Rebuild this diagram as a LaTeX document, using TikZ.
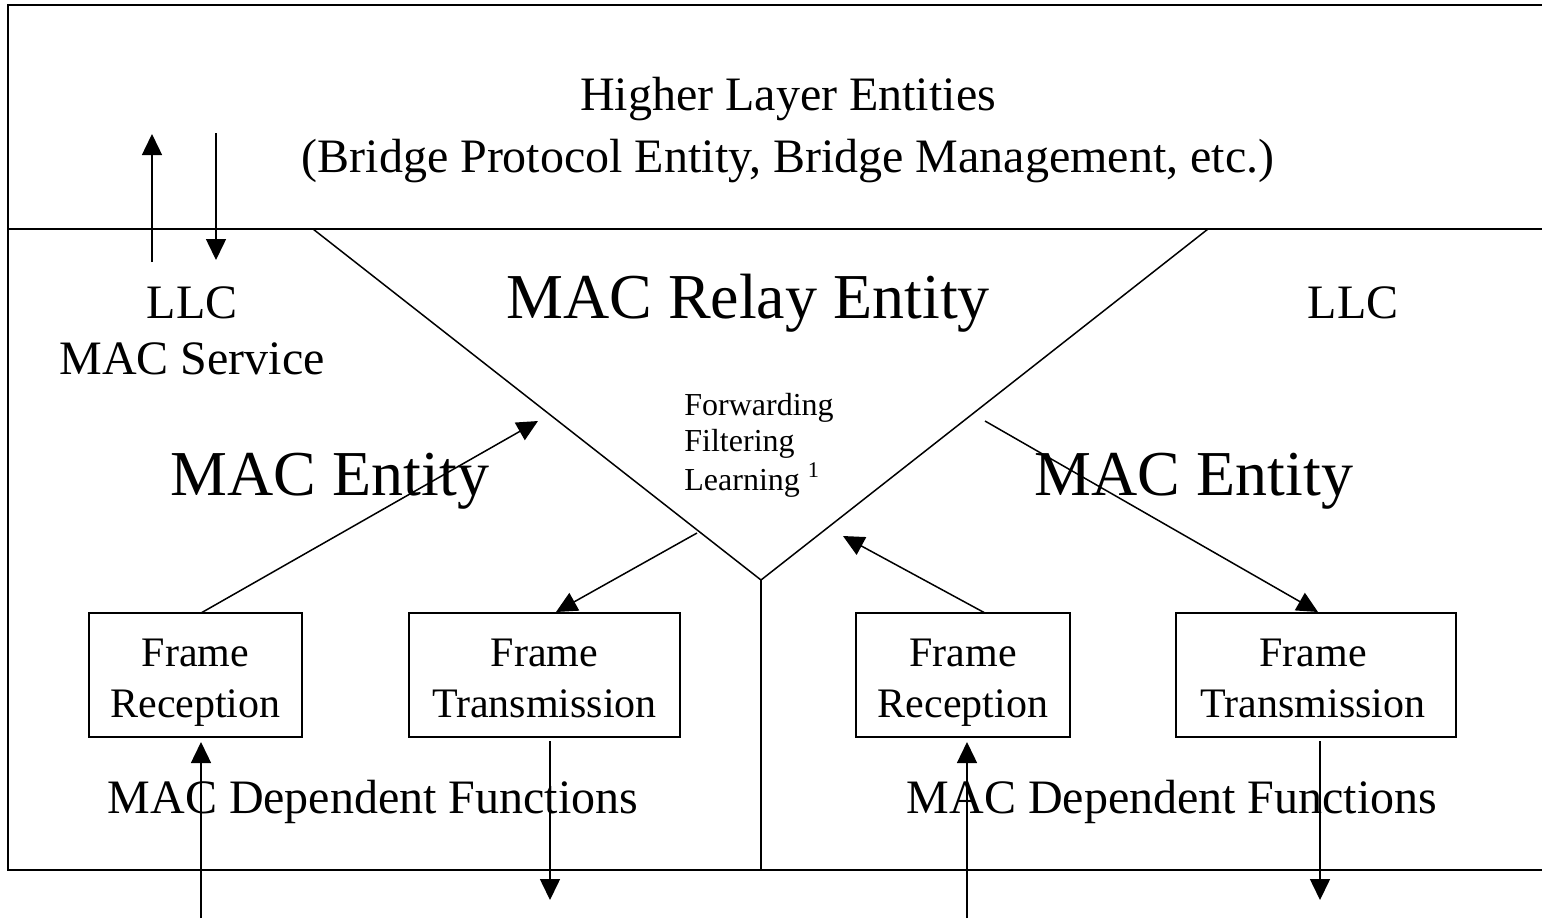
\documentclass[tikz,border=0pt]{standalone}
\usepackage{fontspec}
\setmainfont{Liberation Serif}
\usetikzlibrary{arrows.meta}
\begin{document}
\begin{tikzpicture}[x=0.5pt,y=-0.5pt,
  frame/.style={line width=1pt},
  thin/.style={line width=0.75pt},
  conn/.style={line width=0.75pt,-{Triangle[length=10.5pt,width=10pt]}},
  fbox/.style={draw,line width=0.75pt,inner sep=0pt,minimum height=62pt},
  boxtxt/.style={inner sep=0pt,anchor=base,font=\fontsize{21}{25.5}\selectfont},
  body/.style={inner sep=0pt,anchor=base,font=\fontsize{24}{28}\selectfont},
  big/.style={inner sep=0pt,anchor=base,font=\fontsize{32}{38}\selectfont},
  small/.style={inner sep=0pt,anchor=base west,font=\fontsize{16}{18.75}\selectfont}]
\useasboundingbox (0,0) rectangle (1542,918);

% outer frame and layer divider
\draw[frame] (1542,5) -- (8,5) -- (8,870) -- (1542,870);
\draw[frame] (8,229) -- (1542,229);

% relay V and centre split
\coordinate (vl) at (313,229);
\coordinate (vr) at (1208,229);
\coordinate (vb) at (761,580);
\coordinate (vd) at (761,870);
\draw[thin] (vl) -- (vb) -- (vr);
\draw[thin] (vb) -- (vd);

% texts
\node[body] (hle) at (788,110) {Higher Layer Entities};
\node[body] (bpe) at (788,172) {(Bridge Protocol Entity, Bridge Management, etc.)};
\node[body] (llcl) at (192,318) {LLC};
\node[body] (macs) at (192,374) {MAC Service};
\node[big] (relay) at (748,318) {MAC Relay Entity};
\node[body] (llcr) at (1353,318) {LLC};
\node[small] (fwd) at (684,415) {Forwarding};
\node[small] (flt) at (684,451) {Filtering};
\node[small] (lrn) at (684,490) {Learning \textsuperscript{1}};
\node[big] (mel) at (330,495) {MAC Entity};
\node[big] (mer) at (1194,495) {MAC Entity};
\node[body] (mdfl) at (373,813) {MAC Dependent Functions};
\node[body] (mdfr) at (1172,813) {MAC Dependent Functions};

% frame boxes
\node[fbox,minimum width=106.5pt] (recl) at (195.5,675) {};
\node[fbox,minimum width=135.5pt] (trl) at (544.5,675) {};
\node[fbox,minimum width=107pt] (recr) at (963,675) {};
\node[fbox,minimum width=140pt] (trr) at (1316,675) {};
\node[boxtxt] (recl1) at (195.5,666) {Frame};
\node[boxtxt] (recl2) at (195.5,717) {Reception};
\node[boxtxt] (trl1) at (544.5,666) {Frame};
\node[boxtxt] (trl2) at (544.5,717) {Transmission};
\node[boxtxt] (recr1) at (963,666) {Frame};
\node[boxtxt] (recr2) at (963,717) {Reception};
\node[boxtxt] (trr1) at (1313,666) {Frame};
\node[boxtxt] (trr2) at (1313,717) {Transmission};

% LLC service arrows
\coordinate (upa) at (152,262);
\coordinate (upb) at (152,134);
\coordinate (dna) at (216,133);
\coordinate (dnb) at (216,260);
\draw[conn] (upa) -- (upb);
\draw[conn] (dna) -- (dnb);

% relay paths
\coordinate (rxl) at (201,613);
\coordinate (inl) at (538,421);
\draw[conn] (rxl) -- (inl);
\coordinate (outl) at (697,533);
\coordinate (txl) at (556,612);
\draw[conn] (outl) -- (txl);
\coordinate (rxr) at (985,613);
\coordinate (inr) at (843,536);
\draw[conn] (rxr) -- (inr);
\coordinate (outr) at (985,421);
\coordinate (txr) at (1318,612);
\draw[conn] (outr) -- (txr);

% medium attachments
\coordinate (bl1) at (201,918);
\coordinate (bl1t) at (201,742);
\draw[conn] (bl1) -- (bl1t);
\coordinate (bl2) at (550,741);
\coordinate (bl2t) at (550,900);
\draw[conn] (bl2) -- (bl2t);
\coordinate (br1) at (967,918);
\coordinate (br1t) at (967,742);
\draw[conn] (br1) -- (br1t);
\coordinate (br2) at (1320,741);
\coordinate (br2t) at (1320,900);
\draw[conn] (br2) -- (br2t);
\end{tikzpicture}
\end{document}
